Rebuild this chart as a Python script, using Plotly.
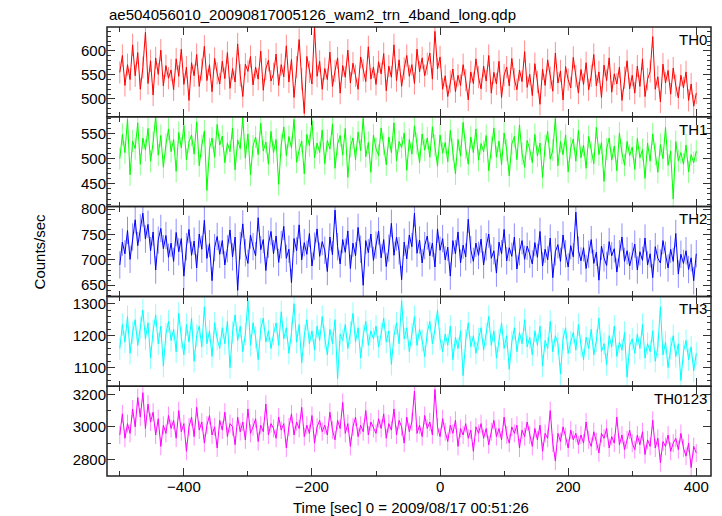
import plotly.graph_objects as go
from plotly.subplots import make_subplots

TITLE = "ae504056010_20090817005126_wam2_trn_4band_long.qdp"
X_TITLE = "Time [sec] 0 = 2009/08/17 00:51:26"
Y_TITLE = "Counts/sec"
BANDS = ["TH0", "TH1", "TH2", "TH3", "TH0123"]

TIME = list(range(-500, 401, 4))

TH0 = [
    555, 590, 528, 571, 540, 612, 548, 596, 520, 565, 638, 532, 579, 508, 585, 551, 601, 527, 569, 543,
    560, 519, 583, 547, 603, 530, 566, 497, 575, 548, 592, 526, 561, 609, 538, 571, 515, 584, 553, 531,
    578, 542, 596, 522, 563, 535, 614, 549, 505, 572, 557, 588, 529, 566, 541, 599, 518, 562, 580, 537,
    552, 593, 528, 571, 546, 610, 535, 582, 503, 566, 623, 541, 470, 588, 556, 531, 649, 547, 578, 520,
    563, 540, 597, 526, 558, 585, 512, 569, 545, 601, 533, 574, 548, 520, 587, 559, 536, 608, 541, 566,
    530, 577, 552, 594, 517, 568, 545, 612, 538, 581, 526, 563, 590, 547, 571, 532, 603, 556, 585, 548,
    573, 595, 541, 640, 562, 587, 520, 548, 505, 536, 562, 515, 549, 528, 571, 539, 498, 556, 532, 583,
    545, 521, 568, 537, 590, 512, 555, 531, 578, 503, 549, 566, 527, 584, 541, 519, 560, 536, 598, 524,
    551, 507, 573, 535, 489, 562, 528, 581, 544, 516, 595, 533, 558, 498, 567, 540, 523, 586, 547, 512,
    561, 530, 575, 519, 548, 592, 527, 556, 503, 570, 538, 585, 514, 552, 531, 566, 497, 544, 579, 521,
    549, 512, 568, 526, 583, 505, 541, 557, 629, 520, 546, 494, 572, 533, 559, 510, 564, 528, 502, 549,
    523, 556, 497, 531, 485, 512,
]

TH1 = [
    500, 548, 512, 579, 468, 535, 520, 571, 489, 541, 517, 560, 495, 532, 584, 507, 546, 483, 528, 559,
    514, 538, 475, 552, 521, 566, 498, 533, 547, 509, 573, 486, 526, 555, 437, 519, 541, 503, 568, 527,
    545, 492, 531, 514, 561, 478, 537, 520, 582, 501, 549, 468, 525, 543, 508, 570, 515, 533, 489, 554,
    512, 538, 449, 527, 563, 506, 544, 521, 578, 493, 517, 535, 470, 548, 526, 575, 502, 531, 512, 557,
    490, 536, 519, 569, 481, 529, 546, 507, 560, 463, 524, 541, 498, 553, 516, 580, 504, 532, 473, 547,
    520, 506, 561, 529, 488, 543, 512, 571, 496, 534, 522, 551, 477, 538, 509, 565, 530, 492, 549, 517,
    541, 503, 563, 526, 485, 547, 511, 532, 494, 556, 518, 470, 538, 505, 572, 521, 489, 543, 512, 559,
    497, 530, 514, 546, 476, 522, 561, 503, 535, 488, 551, 517, 466, 529, 544, 498, 567, 510, 483, 536,
    519, 492, 548, 505, 531, 463, 526, 554, 499, 517, 580, 486, 534, 508, 547, 474, 521, 539, 495, 556,
    502, 527, 481, 544, 513, 490, 562, 508, 532, 455, 519, 541, 497, 525, 476, 551, 511, 487, 534, 506,
    523, 479, 540, 502, 518, 461, 531, 495, 549, 509, 473, 528, 500, 562, 487, 515, 420, 534, 496, 512,
    489, 527, 474, 508, 492, 515,
]

TH2 = [
    690, 735, 712, 758, 701, 745, 779, 728, 763, 792, 741, 770, 718, 755, 680, 739, 762, 722, 748, 705,
    733, 697, 754, 716, 742, 668, 726, 760, 709, 737, 684, 751, 721, 778, 703, 732, 659, 724, 746, 711,
    738, 690, 722, 759, 706, 745, 640, 728, 771, 714, 693, 749, 726, 708, 783, 720, 740, 679, 731, 756,
    712, 747, 695, 730, 766, 703, 721, 655, 742, 718, 769, 700, 734, 711, 752, 688, 727, 761, 707, 736,
    719, 677, 745, 710, 798, 726, 692, 740, 715, 757, 683, 733, 708, 764, 721, 650, 738, 714, 751, 699,
    729, 757, 704, 740, 687, 723, 772, 709, 745, 718, 661, 735, 702, 749, 726, 792, 713, 739, 694, 728,
    747, 708, 733, 686, 761, 719, 742, 700, 725, 668, 738, 712, 755, 694, 729, 706, 780, 720, 697, 733,
    709, 741, 690, 726, 751, 703, 718, 674, 735, 712, 760, 698, 724, 707, 745, 682, 716, 738, 701, 727,
    711, 692, 734, 705, 756, 688, 721, 700, 743, 665, 716, 730, 697, 749, 712, 686, 728, 706, 794, 719,
    698, 724, 683, 711, 740, 693, 715, 660, 727, 704, 689, 736, 708, 722, 676, 712, 745, 697, 718, 688,
    707, 731, 680, 716, 699, 743, 690, 712, 665, 726, 703, 694, 738, 709, 684, 721, 697, 752, 672, 711,
    693, 718, 681, 704, 659, 712,
]

TH3 = [
    1160, 1235, 1180, 1260, 1145, 1210, 1250, 1170, 1225, 1280, 1190, 1240, 1130, 1215, 1265, 1175, 1230, 1105, 1205, 1245,
    1185, 1220, 1150, 1270, 1195, 1140, 1235, 1180, 1255, 1120, 1200, 1230, 1165, 1290, 1175, 1215, 1135, 1240, 1190, 1160,
    1225, 1175, 1245, 1100, 1210, 1265, 1185, 1230, 1150, 1205, 1310, 1170, 1240, 1195, 1125, 1220, 1255, 1180, 1215, 1160,
    1205, 1240, 1170, 1275, 1190, 1225, 1145, 1210, 1300, 1180, 1235, 1115, 1200, 1250, 1175, 1215, 1155, 1230, 1185, 1260,
    1195, 1140, 1220, 1175, 1250, 1065, 1205, 1185, 1235, 1160, 1210, 1270, 1180, 1225, 1130, 1200, 1245, 1170, 1215, 1190,
    1230, 1165, 1205, 1255, 1180, 1215, 1110, 1200, 1240, 1175, 1310, 1190, 1225, 1150, 1205, 1260, 1170, 1220, 1185, 1135,
    1210, 1245, 1175, 1220, 1280, 1190, 1150, 1205, 1170, 1230, 1125, 1195, 1160, 1215, 1075, 1185, 1240, 1165, 1200, 1145,
    1190, 1225, 1155, 1205, 1260, 1170, 1215, 1130, 1185, 1240, 1160, 1200, 1095, 1180, 1225, 1150, 1210, 1175, 1250, 1165,
    1195, 1140, 1215, 1170, 1230, 1105, 1185, 1160, 1245, 1150, 1200, 1175, 1080, 1190, 1225, 1145, 1180, 1210, 1155, 1235,
    1170, 1125, 1195, 1160, 1220, 1140, 1185, 1255, 1150, 1175, 1110, 1200, 1165, 1230, 1135, 1180, 1155, 1210, 1070, 1170,
    1190, 1145, 1205, 1160, 1235, 1130, 1175, 1150, 1215, 1120, 1165, 1290, 1140, 1180, 1100, 1160, 1200, 1135, 1175, 1060,
    1150, 1185, 1125, 1165, 1090, 1145,
]

TH0123 = [
    2950, 3080, 2930, 3020, 2960, 3110, 3000, 3180, 3060, 3210, 2990, 3140, 3030, 3090, 2950, 3050, 2880, 3010, 2960, 3070,
    2990, 3040, 2930, 3100, 2970, 3020, 2850, 3000, 3060, 2940, 3120, 2980, 3030, 2900, 3010, 3070, 2950, 3000, 2870, 3040,
    2980, 3090, 2940, 3020, 3000, 2890, 3060, 2970, 3030, 2920, 3110, 2960, 3000, 3050, 2910, 3010, 2970, 3140, 2950, 3020,
    2990, 2930, 3060, 2980, 3020, 2870, 3000, 3080, 2950, 3030, 2990, 3120, 2940, 3010, 2960, 3070, 2900, 3000, 3040, 2970,
    3010, 2950, 3090, 2980, 2920, 3040, 2990, 3150, 2960, 3020, 2880, 3000, 3060, 2940, 3010, 2970, 3100, 2950, 3030, 2990,
    2960, 3050, 2990, 3080, 2930, 3020, 2980, 3110, 2950, 3040, 3000, 2900, 3060, 2970, 3030, 3220, 2960, 3010, 2940, 3070,
    2990, 3030, 2950, 3230, 3000, 2940, 3050, 2970, 2910, 3010, 2960, 3040, 2880, 2990, 2950, 3020, 2930, 2980, 2850, 3000,
    2960, 3020, 2930, 2990, 2890, 2970, 3040, 2940, 2990, 2920, 3060, 2950, 2900, 3000, 2960, 3010, 2870, 2980, 2940, 3030,
    2950, 2880, 2990, 2920, 3010, 2850, 2960, 2930, 3100, 2900, 2790, 2960, 2910, 3000, 2940, 2870, 2980, 2920, 2960, 2890,
    2950, 2900, 3030, 2920, 2880, 2970, 2910, 2840, 2960, 2930, 2990, 2870, 2940, 2900, 3060, 2890, 2950, 2860, 2920, 2980,
    2900, 2860, 2950, 2890, 2970, 2830, 2920, 2880, 3040, 2870, 2930, 2780, 2910, 2880, 2950, 2850, 2900, 2930, 2860, 2960,
    2870, 2820, 2900, 2750, 2880, 2840,
]

# approximate half-height of the pale error bars seen around each curve
ERRORS = [23, 22, 27, 35, 55]

SERIES = [TH0, TH1, TH2, TH3, TH0123]
COLORS = ["#ff0000", "#00ff00", "#0000ff", "#00ffff", "#ff00ff"]
ERR_COLORS = ["rgba(255,0,0,0.45)", "rgba(0,255,0,0.45)", "rgba(0,0,255,0.45)",
              "rgba(0,255,255,0.45)", "rgba(255,0,255,0.45)"]
Y_RANGES = [[463, 649], [405, 583], [628, 805], [1042, 1323], [2698, 3250]]
Y_DTICK = [50, 50, 50, 100, 200]
Y_MINOR = [10, 10, 10, 20, 100]

for s in SERIES:
    assert len(s) == len(TIME), len(s)

FONT = "Liberation Sans, Arial, Helvetica, sans-serif"

fig = make_subplots(rows=5, cols=1, shared_xaxes=True, vertical_spacing=0)

for i, (ys, col) in enumerate(zip(SERIES, COLORS)):
    r = i + 1
    sfx = "" if r == 1 else str(r)
    fig.add_trace(
        go.Scatter(x=TIME, y=ys, mode="lines", line=dict(color=col, width=1),
                   error_y=dict(type="constant", value=ERRORS[i], color=ERR_COLORS[i],
                                thickness=1, width=0),
                   showlegend=False, hoverinfo="skip", cliponaxis=True),
        row=r, col=1,
    )
    fig.update_yaxes(
        range=Y_RANGES[i], dtick=Y_DTICK[i], tick0=0,
        ticks="inside", ticklen=8, tickwidth=1, tickcolor="#333",
        minor=dict(ticks="inside", dtick=Y_MINOR[i], ticklen=4, tickwidth=1, tickcolor="#333"),
        showline=False, mirror="ticks",
        showgrid=False, zeroline=False,
        tickfont=dict(family=FONT, size=15, color="#000"),
        row=r, col=1,
    )
    fig.update_xaxes(
        range=[-520, 423], dtick=200, tick0=0,
        ticks="inside", ticklen=8, tickwidth=1, tickcolor="#333",
        minor=dict(ticks="inside", dtick=100, ticklen=5, tickwidth=1, tickcolor="#333"),
        showline=False, mirror="ticks",
        showgrid=False, zeroline=False,
        tickfont=dict(family=FONT, size=15, color="#000"),
        row=r, col=1,
    )
    fig.add_shape(
        type="rect", xref=f"x{sfx} domain", yref=f"y{sfx} domain",
        x0=0, x1=1, y0=0, y1=1, line=dict(color="#222", width=1.5), layer="above",
    )
    fig.add_annotation(
        text=BANDS[i], xref=f"x{sfx} domain", yref=f"y{sfx} domain",
        x=0.997, y=0.98, xanchor="right", yanchor="top", showarrow=False,
        font=dict(family=FONT, size=15, color="#000"),
    )

fig.add_annotation(
    text=TITLE, xref="paper", yref="paper", x=0, y=1, xanchor="left", yanchor="bottom",
    yshift=2, showarrow=False, font=dict(family=FONT, size=15, color="#000"),
)
fig.add_annotation(
    text=Y_TITLE, xref="paper", yref="paper", x=-0.111, y=0.5, textangle=-90,
    xanchor="center", yanchor="middle", showarrow=False,
    font=dict(family=FONT, size=15, color="#000"),
)
fig.add_annotation(
    text=X_TITLE, xref="paper", yref="paper", x=0.503, y=0, xanchor="center", yanchor="top",
    yshift=-21, showarrow=False, font=dict(family=FONT, size=15, color="#000"),
)

fig.update_layout(
    width=722, height=516,
    margin=dict(l=107, r=11, t=27, b=40),
    paper_bgcolor="white", plot_bgcolor="white",
    font=dict(family=FONT, size=15, color="#000"),
)

fig.write_html("out.html", config={"displayModeBar": False},
               post_script="document.body.style.margin='0';document.body.style.overflow='hidden';")
